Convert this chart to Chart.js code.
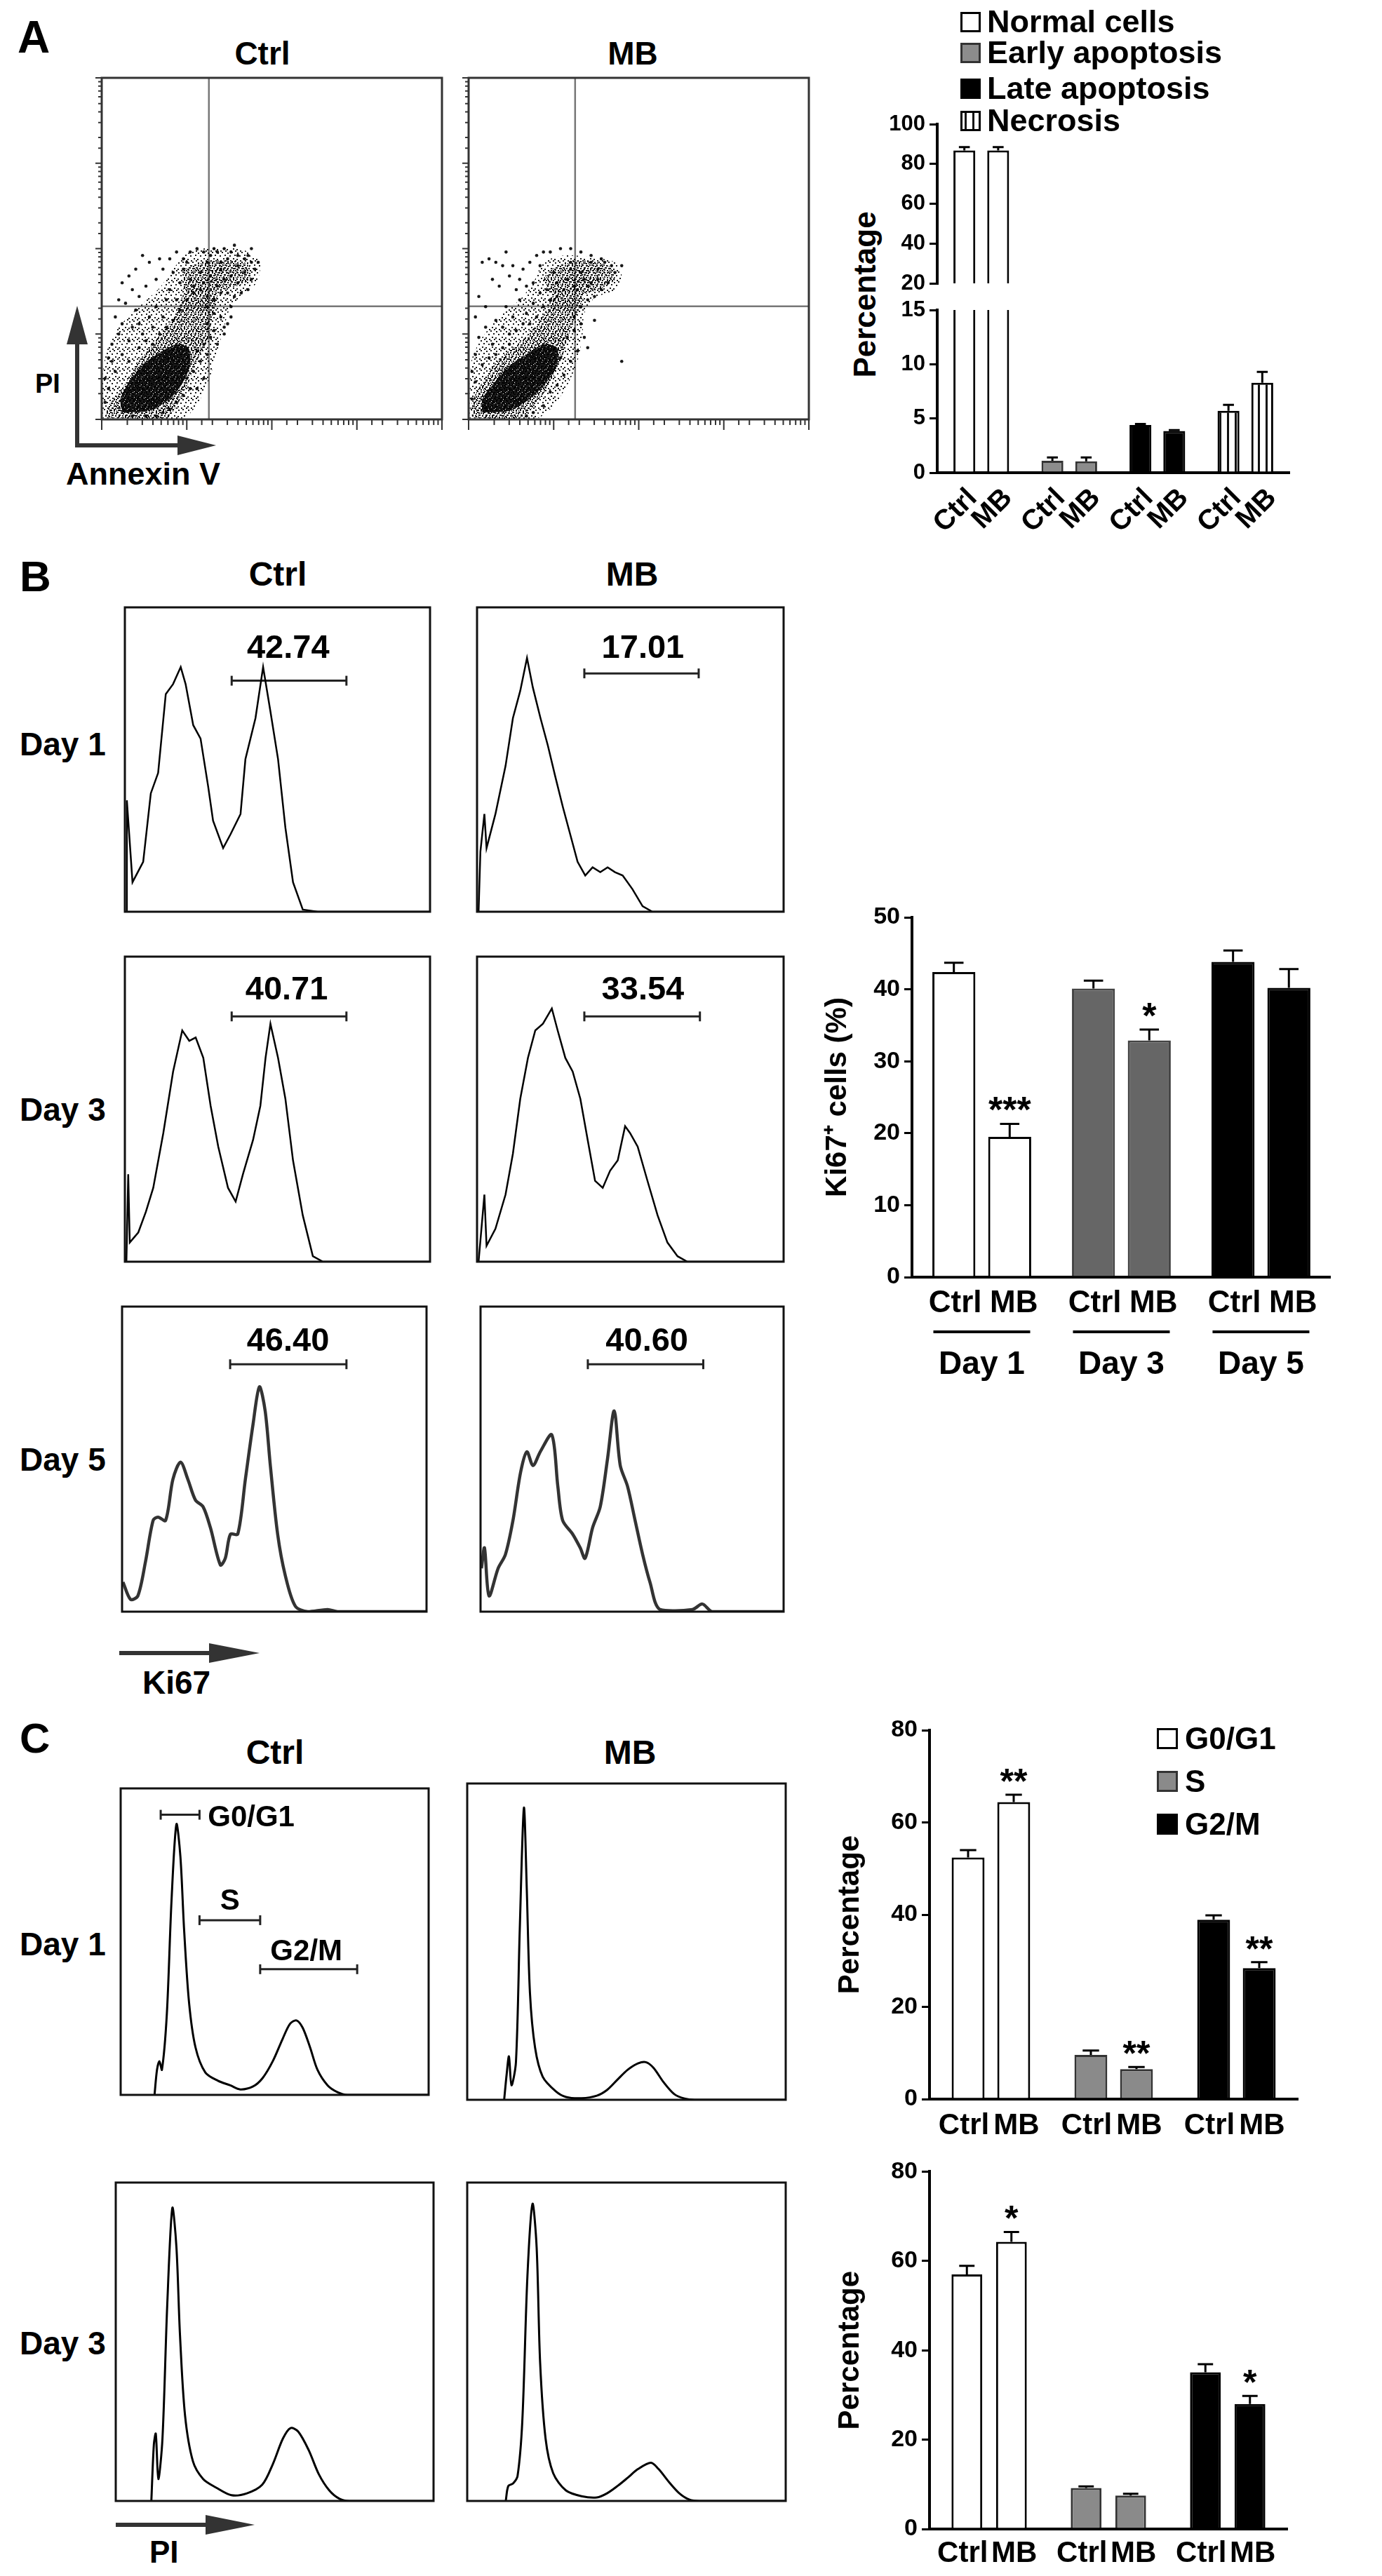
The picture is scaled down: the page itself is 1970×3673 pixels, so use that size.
<!DOCTYPE html>
<html><head><meta charset="utf-8"><title>Figure</title>
<script src="https://cdn.jsdelivr.net/npm/chart.js@4.4.1/dist/chart.umd.min.js"></script>
<style>
html,body{margin:0;padding:0;background:#fff;}
#page{position:relative;width:1970px;height:3673px;overflow:hidden;background:#fff;font-family:"Liberation Sans",Arial,Helvetica,sans-serif;font-weight:bold;color:#000;}
.t{position:absolute;white-space:nowrap;line-height:1;}
canvas{position:absolute;}
.shape{position:absolute;}
</style></head>
<body><div id="page"></div>
<script>
// ================= DATA =================
// Panel A – bar chart (percentage of cells)
const aCategories = ['Normal cells','Early apoptosis','Late apoptosis','Necrosis'];
const aCtrl    = [86.8, 1.1, 4.4, 5.7];
const aMB      = [86.8, 1.05, 3.85, 8.3];
const aCtrlErr = [1.7, 0.3, 0.1, 0.55];
const aMBErr   = [1.7, 0.35, 0.08, 1.0];
const aTopTicks    = [20, 40, 60, 80, 100];
const aBottomTicks = [0, 5, 10, 15];

// Panel A – Annexin V / PI dot plots (percent of plot width / height)
const aGateX = [31.5, 31.3];
const aGateY = [33.1, 33.1];
// density contours: densest spot, dense core, medium halo, upper (PI+) cluster
const aCtrlPeak  = [[6,2],[14,2.5],[20,6],[24,11],[26,16],[25.5,21],[22,22],[17,19.5],[12,16],[8,11],[5.5,6],[6,2]];
const aCtrlCore  = [[1,0.5],[19,0.5],[25,9.8],[27.8,16.7],[31.3,23.5],[32.6,30.4],[34,37.2],[30,38.5],[24.4,37.2],[21.6,30.4],[16.1,23.5],[10.6,16.7],[6.5,9.8],[2,4],[1,0.5]];
const aCtrlHalo  = [[0.3,0.3],[24,0.3],[29,6],[32,13],[34,20],[36,27],[37.5,32],[41,36],[45.5,40],[46.5,46],[42,49.5],[33,50.5],[25,48.5],[21,44],[17,38.5],[11,33],[5,27],[1.5,20],[0.3,13],[0.3,0.3]];
const aCtrlUpper = [[24,38],[31,37.5],[38,38.5],[43.5,41],[43,45.5],[36,46.5],[29,46],[24,43.5],[24,38]];
const aCtrlUpperDark = [[31,40.5],[36,40],[39,42.5],[36,45],[32,44],[31,40.5]];
const aMbPeak    = [[4,2],[12,2.5],[18,6],[23,11],[26,16],[26,21],[22,22],[17,19],[11,15],[7,10],[4,6],[4,2]];
const aMbCore    = [[1,0.5],[15,0.5],[19,3.7],[24,10.5],[27.2,17.4],[29.3,24.3],[32,31.1],[34,37.9],[30,39.5],[25.8,37.9],[22.4,31.1],[17,24.3],[8.7,17.4],[3.8,10.5],[1,5],[1,0.5]];
const aMbHalo    = [[0.3,0.3],[20,0.3],[25,4],[29,10],[32,17],[33.5,25],[34,31],[37,35.5],[43,38],[45,42],[43,46],[36,47.5],[28,48],[22,46],[19,40],[15,35],[9,30],[4,24],[0.8,17],[0.3,0.3]];
const aMbUpper   = [[24,37],[31,36],[38,38],[43,41],[41,45],[33,46.5],[26,45],[22,41],[24,37]];
const aMbUpperDark = [[28,39],[34,38.5],[37,41],[34,43.5],[29,42.5],[28,39]];
const aCtrlDots = [[1,12],[2,18],[3,22],[5,25],[8,23],[6,28],[9,27],[11,28],[12,25],[14,30],[10,32],[16,33],[18,30],[19,35],
 [20,38],[22,35],[23,40],[21,43],[18,44],[16,41],[14,46],[12,48],[10,44],[8,42],[6,40],[13,39],[24,47],[26,49],[28,50],
 [30,49],[32,48],[34,49],[36,50],[38,49],[40,48],[42,47],[44,46],[45,44],[44,41],[43,38],[41,37],[39,36],[37,37],[35,37],
 [33,35],[31,33],[33,31],[35,30],[37,28],[36,25],[34,22],[33,26],[31,28],[30,22],[31,19],[29,17],[27,14],[25,12],[26,9],
 [24,7],[22,5],[20,3],[18,2],[16,1],[13,1],[9,1],[1,5],[2,9],[4,14],[3,17],[6,19],[8,17],[11,21],[13,23],[15,22],[17,25],
 [19,27],[21,29],[23,32],[25,35],[27,37],[29,38],[31,36],[15,27],[4,30],[7,34],[28,20],[32,24],[38,33],[40,40],[42,43],
 [43,48],[20,47],[22,49],[25,46],[35,46],[37,47],[33,50],[17,47],[11,36],[9,38],[5,35],[46,46],[44,50],[39,51],[36,27],
 [38,30],[30,12],[28,9],[26,41],[29,43],[32,42],[35,44],[38,42],[30,40],[34,39],[36,41],[27,39],[24,44],[31,46],[40,45]];
const aMbDots = [[1,14],[2,19],[3,24],[5,27],[7,22],[8,29],[10,27],[12,25],[13,30],[11,33],[15,35],[17,31],[19,34],[14,38],
 [12,42],[10,45],[8,46],[6,47],[4,46],[16,44],[18,46],[20,48],[22,49],[24,49],[27,50],[30,50],[33,49],[36,48],[39,47],
 [42,45],[43,43],[41,40],[39,38],[37,36],[35,35],[33,33],[31,30],[33,28],[34,24],[32,20],[31,26],[30,17],[28,13],[26,10],
 [24,8],[22,4],[25,15],[27,18],[29,24],[1,6],[2,11],[4,16],[6,18],[8,19],[10,21],[12,22],[14,26],[16,28],[18,28],[20,30],
 [22,33],[24,35],[26,36],[21,37],[19,40],[17,39],[15,41],[13,45],[21,45],[23,38],[45,17],[35,39],[38,44],[40,46],[36,46],
 [5,33],[3,36],[9,39],[7,41],[11,49],[30,46],[32,38],[35,21],[37,29],[19,2],[17,1],[2,30],[45,45],[26,40],[29,41],[33,43],
 [36,40],[28,38],[31,39],[34,41],[25,43],[30,44],[38,41]];

// Panel B – Ki67 histograms [channel %, count %]
const bHistD1Ctrl = [[0.5,0],[0.65,36.6],[2.5,9.7],[6.0,16.4],[8.5,38.9],[10.9,45.6],[13.4,71.5],[15.8,74.8],[18.3,80.4],[19.9,74.8],
 [22.4,61.3],[24.8,56.9],[27.3,41.1],[28.9,29.9],[32.2,20.9],[34.6,25.4],[37.9,32.1],[39.5,50.1],[42.8,63.6],[45.3,80.4],
 [47.7,65.8],[50.2,50.1],[52.6,27.6],[55.1,9.7],[58.3,0.7],[63.2,0],[100,0]];
const bHistD1MB = [[0.5,0],[1.1,19.8],[2.4,32.1],[3.1,20.9],[6.0,32.1],[9.3,47.9],[11.7,63.6],[14.1,72.6],[16.3,83.4],[18.2,73.7],
 [20.7,63.6],[23.1,54.6],[25.5,44.5],[28.0,34.4],[30.4,25.4],[32.8,16.4],[35.3,11.9],[37.7,14.6],[40.2,13.0],[42.6,14.6],
 [45.0,13.0],[47.5,11.9],[50.7,7.4],[54.0,1.8],[57.2,0],[100,0]];
const bHistD3Ctrl = [[0.5,0],[1.1,28.7],[1.6,6.3],[4.4,9.6],[6.9,16.4],[9.3,24.2],[12.6,42.2],[15.8,62.3],[18.8,75.8],[21.1,72.4],
 [23.2,73.5],[25.7,66.8],[28.1,51.1],[30.6,37.7],[33.8,24.2],[36.3,19.7],[38.7,28.7],[42.0,39.9],[44.4,51.1],[46.1,66.8],
 [47.7,78.0],[50.2,66.8],[52.6,53.4],[55.1,33.2],[58.3,15.2],[61.6,1.8],[64.9,0],[100,0]];
const bHistD3MB = [[0.5,0],[2.4,22.0],[3.1,5.2],[6.0,10.8],[9.3,22.0],[11.7,35.4],[14.1,53.4],[16.6,66.8],[19.0,75.8],[21.5,78.0],
 [24.4,83.0],[26.3,75.8],[28.8,66.8],[31.2,62.3],[33.7,53.4],[36.1,39.9],[38.5,26.5],[41.0,24.2],[43.4,29.8],[45.9,33.2],
 [48.3,44.4],[49.9,42.2],[52.4,37.7],[55.6,26.5],[58.9,15.2],[62.1,6.3],[65.4,1.8],[68.6,0],[100,0]];
const bHistD5Ctrl = [[0.3,9.7],[2.8,4.0],[5.2,5.2],[7.7,16.4],[10.2,29.9],[11.8,31.0],[14.3,29.9],[16.7,43.4],[19.2,49.0],[21.6,43.4],
 [24.1,36.6],[26.6,34.4],[29.0,27.6],[32.3,15.3],[33.9,17.5],[35.6,25.4],[38.0,25.4],[40.5,43.4],[43.0,61.3],[45.1,73.7],
 [47.0,65.8],[48.7,47.9],[51.1,25.4],[53.6,11.9],[56.9,1.8],[61.0,0],[67.5,0.7],[70.8,0],[100,0]];
const bHistD5MB = [[0.3,14.2],[1.3,20.9],[2.8,5.2],[5.8,14.2],[8.2,18.7],[10.7,29.9],[13.2,45.6],[15.3,52.4],[17.3,47.9],[19.7,52.4],
 [23.5,58.0],[25.5,41.1],[27.1,29.9],[30.4,25.4],[32.9,20.9],[34.5,17.5],[37.0,27.6],[39.5,34.4],[41.9,50.1],[44.1,65.8],
 [46.1,47.9],[48.5,41.1],[51.0,29.9],[53.5,18.7],[55.9,9.7],[59.2,0.7],[69.9,0.7],[73.2,2.5],[76.5,0],[100,0]];
const bGateValues = ['42.74','17.01','40.71','33.54','46.40','40.60'];
const bGateRanges = [[35.0,72.6,75.9],[35.0,72.3,78.3],[35.0,72.6,80.4],[35.0,72.7,80.4],[35.5,73.7,81.1],[35.4,73.5,81.1]];

// Panel B – Ki67+ bar chart
const bCategories = ['Day 1','Day 3','Day 5'];
const bCtrl    = [42.4, 40.1, 43.8];
const bMB      = [19.5, 32.9, 40.2];
const bCtrlErr = [1.3, 1.1, 1.6];
const bMBErr   = [1.8, 1.5, 2.6];
const bMBStars = ['***','*',''];
const bTicks   = [0, 10, 20, 30, 40, 50];

// Panel C – PI cell-cycle histograms
const cHistD1Ctrl = [[11.0,0],[11.8,8.2],[12.6,11.0],[13.4,8.2],[15.0,26.5],[16.5,63.1],[18.1,88.3],[19.4,77.7],[20.6,53.9],
 [22.2,30.2],[24.3,15.5],[27.5,7.3],[31.6,4.6],[35.6,3.1],[38.8,1.8],[42.9,2.7],[46.1,5.5],[49.4,11.0],[52.6,18.3],[55.0,23.2],
 [57.1,24.3],[59.1,21.9],[61.5,15.5],[63.9,8.2],[67.2,3.1],[70.4,0.9],[73.6,0],[100,0]];
const cHistD1MB = [[11.6,0],[12.4,8.2],[13.1,13.7],[13.9,4.6],[15.3,11.9],[16.5,53.9],[17.8,92.3],[18.7,66.7],[19.7,33.8],
 [21.3,16.5],[23.7,7.3],[27.8,2.7],[31.0,0.9],[35.9,0.5],[40.7,1.3],[43.9,3.1],[47.2,6.4],[50.4,9.5],[53.6,11.5],[56.1,11.9],
 [58.5,10.1],[61.7,5.5],[65.0,1.8],[68.2,0.4],[71.4,0],[100,0]];
const cHistD3Ctrl = [[11.2,0],[12.0,17.8],[12.6,21.1],[13.4,6.9],[14.7,19.6],[16.2,61.5],[17.8,92.0],[19.1,79.6],[20.2,52.4],
 [21.8,26.9],[24.3,12.4],[27.5,6.9],[31.6,4.2],[36.4,1.8],[41.3,2.4],[46.1,5.1],[49.4,11.5],[52.6,19.6],[55.0,22.9],[57.4,21.8],
 [60.7,16.0],[63.9,8.4],[67.2,3.3],[70.4,0.7],[73.6,0],[100,0]];
const cHistD3MB = [[12.1,0],[12.9,4.7],[14.4,5.5],[15.8,7.8],[17.3,25.1],[18.9,70.5],[20.5,93.3],[21.8,79.6],[22.9,43.3],
 [24.6,19.6],[27.0,8.7],[31.0,3.3],[35.9,1.5],[40.7,1.1],[43.9,2.4],[47.2,4.7],[50.4,7.3],[53.6,10.0],[57.7,12.0],[60.1,10.0],
 [63.3,6.0],[66.6,2.4],[69.8,0.4],[73.0,0],[100,0]];
const cGateRanges = [[13.0,25.6,91.4],[25.6,45.3,57.0],[45.3,76.8,41.0]];

// Panel C – cell-cycle bar charts
const cCategories = ['G0/G1','S','G2/M'];
const cDay1Ctrl    = [52.4, 9.6, 38.9];
const cDay1MB      = [64.4, 6.5, 28.4];
const cDay1CtrlErr = [1.6, 0.95, 0.95];
const cDay1MBErr   = [1.6, 0.45, 1.3];
const cDay1MBStars = ['**','**','**'];
const cDay3Ctrl    = [57.0, 9.2, 35.1];
const cDay3MB      = [64.3, 7.5, 28.0];
const cDay3CtrlErr = [1.9, 0.35, 1.8];
const cDay3MBErr   = [2.2, 0.4, 1.8];
const cDay3MBStars = ['*','','*'];
const cTicks = [0, 20, 40, 60, 80];

// ================= HELPERS =================
const FONT = "'Liberation Sans', Arial, Helvetica, sans-serif";
Chart.defaults.font.family = FONT;
Chart.defaults.font.weight = 'bold';
Chart.defaults.color = '#000';
Chart.defaults.animation = false;
Chart.defaults.responsive = false;

const page = document.getElementById('page');
function addCanvas(l,t,w,h){const c=document.createElement('canvas');c.width=w;c.height=h;c.style.left=l+'px';c.style.top=t+'px';c.style.width=w+'px';c.style.height=h+'px';page.appendChild(c);return c;}
function addText(txt,x,base,size,align){const d=document.createElement('div');d.className='t';d.textContent=txt;d.style.fontSize=size+'px';d.style.top=(base-0.8465*size)+'px';d.style.left=x+'px';if(align==='center')d.style.transform='translateX(-50%)';page.appendChild(d);return d;}
function addRotText(txt,cx,cy,size){const d=document.createElement('div');d.className='t';d.textContent=txt;d.style.fontSize=size+'px';d.style.left=cx+'px';d.style.top=cy+'px';d.style.transform='translate(-50%,-50%) rotate(-90deg)';page.appendChild(d);return d;}
function addRect(x,y,w,h,color){const d=document.createElement('div');d.className='shape';Object.assign(d.style,{left:x+'px',top:y+'px',width:w+'px',height:h+'px',background:color});page.appendChild(d);}
function arrowRight(x0,cy,tip,len,half,shaft,color){addRect(x0,cy-shaft/2,tip-len-x0+2,shaft,color);const d=document.createElement('div');d.className='shape';Object.assign(d.style,{left:(tip-len)+'px',top:(cy-half)+'px',width:0,height:0,borderTop:half+'px solid transparent',borderBottom:half+'px solid transparent',borderLeft:len+'px solid '+color});page.appendChild(d);}
function arrowUp(cx,y0,tip,len,half,shaft,color){addRect(cx-shaft/2,tip+len-2,shaft,y0-(tip+len)+2,color);const d=document.createElement('div');d.className='shape';Object.assign(d.style,{left:(cx-half)+'px',top:tip+'px',width:0,height:0,borderLeft:half+'px solid transparent',borderRight:half+'px solid transparent',borderBottom:len+'px solid '+color});page.appendChild(d);}

// fill textures (style only)
function tile(w,h,bg,fg,spots){const c=document.createElement('canvas');c.width=w;c.height=h;const x=c.getContext('2d');if(bg){x.fillStyle=bg;x.fillRect(0,0,w,h);}x.fillStyle=fg;spots.forEach(s=>x.fillRect(s[0],s[1],s[2],s[3]));return x.createPattern(c,'repeat');}
const stripes   = tile(11,4,'#fff','#111',[[5,0,3,4]]);
const speckLow  = tile(14,14,null,'rgba(0,0,0,0.9)',[[1,1,2,2],[7,0,2,2],[11,4,2,2],[4,5,2,2],[9,9,2,2],[0,10,2,2],[5,12,2,2],[12,12,2,2]]);
const speckMid  = tile(10,10,null,'rgba(0,0,0,0.92)',[[0,0,2,2],[5,1,2,2],[2,4,3,2],[7,5,2,2],[1,7,2,2],[5,8,2,2],[8,2,2,2],[9,8,1,2]]);
const speckHigh = tile(8,8,'rgba(0,0,0,0.9)','#fff',[[2,1,1,1],[6,4,1,1],[3,6,1,1],[0,3,1,1]]);

// ---- plugins ----
const borderPlugin=(color,width)=>({id:'boxBorder',afterDatasetsDraw(chart){const {ctx,chartArea:a}=chart;ctx.save();ctx.strokeStyle=color;ctx.lineWidth=width;ctx.strokeRect(a.left,a.top,a.right-a.left,a.bottom-a.top);ctx.restore();}});
const textPlugin=(items)=>({id:'dataText',afterDatasetsDraw(chart){const {ctx,scales:{x,y}}=chart;ctx.save();ctx.fillStyle='#000';items.forEach(it=>{ctx.font='bold '+it.size+'px '+FONT;ctx.textAlign=it.align||'center';ctx.textBaseline='alphabetic';ctx.fillText(it.t,x.getPixelForValue(it.x),y.getPixelForValue(it.y));});ctx.restore();}});
const logTickPlugin={id:'logTicks',afterDraw(chart){const {ctx,chartArea:a}=chart;const xs=chart.scales.xlog,ys=chart.scales.ylog;const maj=v=>Math.abs(Math.log10(v)-Math.round(Math.log10(v)))<1e-6;ctx.save();ctx.strokeStyle='#333';ctx.lineWidth=2;ctx.beginPath();xs.ticks.forEach(t=>{const p=xs.getPixelForValue(t.value);ctx.moveTo(p,a.bottom);ctx.lineTo(p,a.bottom+(maj(t.value)?15:8));});ys.ticks.forEach(t=>{const p=ys.getPixelForValue(t.value);ctx.moveTo(a.left,p);ctx.lineTo(a.left-(maj(t.value)?9:5),p);});ctx.stroke();ctx.restore();}};
const errPlugin=(o)=>({id:'errBars',afterDatasetsDraw(chart){const {ctx,chartArea:a,scales:{y}}=chart;ctx.save();ctx.beginPath();ctx.rect(a.left,a.top,a.right-a.left,a.bottom-a.top);ctx.clip();ctx.strokeStyle='#000';ctx.lineWidth=o.lw;chart.data.datasets.forEach((ds,di)=>{if(!ds.err)return;const meta=chart.getDatasetMeta(di);meta.data.forEach((el,i)=>{const top=y.getPixelForValue(ds.data[i]+ds.err[i]);const hw=el.width*o.cap/2;ctx.beginPath();ctx.moveTo(el.x,el.y);ctx.lineTo(el.x,top);ctx.moveTo(el.x-hw,top);ctx.lineTo(el.x+hw,top);ctx.stroke();});});ctx.restore();}});
const starPlugin=(o)=>({id:'stars',afterDatasetsDraw(chart){const {ctx,scales:{y}}=chart;ctx.save();ctx.fillStyle='#000';ctx.font='bold '+o.size+'px '+FONT;ctx.textAlign='center';ctx.textBaseline='alphabetic';chart.data.datasets.forEach((ds,di)=>{if(!ds.stars)return;const meta=chart.getDatasetMeta(di);meta.data.forEach((el,i)=>{const s=ds.stars[i];if(!s)return;const top=y.getPixelForValue(ds.data[i]+(ds.err?ds.err[i]:0));ctx.fillText(s,el.x,top+o.gap);});});ctx.restore();}});
const barLabelPlugin=(o)=>({id:'barLabels',afterDraw(chart){const {ctx,chartArea:a}=chart;ctx.save();ctx.fillStyle='#000';ctx.font='bold '+o.size+'px '+FONT;chart.data.datasets.forEach((ds,di)=>{const meta=chart.getDatasetMeta(di);const dx=o.dx?o.dx[di]:0;meta.data.forEach(el=>{if(o.rotate){ctx.save();ctx.translate(el.x+dx,a.bottom+o.dy);ctx.rotate(-Math.PI/4);ctx.textAlign='right';ctx.textBaseline='middle';ctx.fillText(ds.label,0,0);ctx.restore();}else{ctx.textAlign='center';ctx.textBaseline='alphabetic';ctx.fillText(ds.label,el.x+dx,a.bottom+o.dy);}});});ctx.restore();}});
const groupLinePlugin=(o)=>({id:'groupLines',afterDraw(chart){const {ctx,chartArea:a,scales:{x}}=chart;ctx.save();ctx.strokeStyle='#000';ctx.lineWidth=o.width;ctx.beginPath();x.ticks.forEach((t,i)=>{const cx=x.getPixelForTick(i);ctx.moveTo(cx-o.half,a.bottom+o.dy);ctx.lineTo(cx+o.half,a.bottom+o.dy);});ctx.stroke();ctx.restore();}});
const legendPlugin=(labels,fills,borders,o)=>({id:'boxLegend',afterDraw(chart){const ctx=chart.ctx;ctx.save();labels.forEach((lab,i)=>{const yb=o.ys[i];ctx.fillStyle=fills[i];ctx.fillRect(o.x,yb-o.box,o.box,o.box);ctx.lineWidth=3;ctx.strokeStyle=borders[i];ctx.strokeRect(o.x+1.5,yb-o.box+1.5,o.box-3,o.box-3);ctx.fillStyle='#000';ctx.font='bold '+o.size+'px '+FONT;ctx.textAlign='left';ctx.textBaseline='alphabetic';ctx.fillText(lab,o.x+o.box+o.dx,yb);});ctx.restore();}});

function yAxis(min,max,ticksArr,size,width,title){
  const ax={type:'linear',min,max,
    afterBuildTicks(s){s.ticks=ticksArr.map(v=>({value:v}));},
    afterFit(s){s.width=width;},
    ticks:{font:{size:size,weight:'bold'},color:'#000',padding:6},
    grid:{drawOnChartArea:false,drawTicks:true,tickLength:11,color:'#000',lineWidth:3},
    border:{display:true,color:'#000',width:4}};
  ax.title=title?{display:true,text:title.text,font:{size:title.size,weight:'bold'},color:'#000',padding:{top:title.pad,bottom:0}}:{display:false};
  return ax;
}
const noPlug={legend:{display:false},tooltip:{enabled:false}};

// ---- dot plot ----
function dotChart(box,shapes,dots,gx,gy){
  const pl=18,pt=4,pr=4,pb=20;
  const c=addCanvas(box[0]-pl,box[1]-pt,box[2]-box[0]+pl+pr,box[3]-box[1]+pt+pb);
  const poly=(pts,fill)=>({type:'line',data:pts.map(p=>({x:p[0],y:p[1]})),fill:'shape',backgroundColor:fill,borderWidth:0,borderColor:'rgba(0,0,0,0)',pointRadius:0,tension:0.25});
  const ds=[
    poly(shapes.halo,speckLow),
    poly(shapes.upper,speckMid),
    poly(shapes.upperDark,speckMid),
    poly(shapes.core,speckMid),
    poly(shapes.core,speckLow),
    poly(shapes.peak,speckHigh),
    {data:dots.map(p=>({x:p[0],y:p[1]})),pointRadius:2.3,pointBackgroundColor:'rgba(0,0,0,0.9)',pointBorderWidth:0},
    {type:'line',data:[{x:gx,y:0},{x:gx,y:100}],borderColor:'#777',borderWidth:2.5,pointRadius:0},
    {type:'line',data:[{x:0,y:gy},{x:100,y:gy}],borderColor:'#777',borderWidth:2.5,pointRadius:0}];
  new Chart(c,{type:'scatter',data:{datasets:ds},
   options:{devicePixelRatio:1,layout:{padding:{left:pl,top:pt,right:pr,bottom:pb}},plugins:noPlug,
    scales:{x:{type:'linear',min:0,max:100,display:false},y:{type:'linear',min:0,max:100,display:false},
     xlog:{type:'logarithmic',position:'bottom',min:1,max:10000,display:true,ticks:{display:false,autoSkip:false},grid:{display:false},border:{display:false},afterFit(s){s.height=0;}},
     ylog:{type:'logarithmic',position:'left',min:1,max:10000,display:true,ticks:{display:false,autoSkip:false},grid:{display:false},border:{display:false},afterFit(s){s.width=0;}}}},
   plugins:[borderPlugin('#333',3),logTickPlugin]});
}

// ---- histogram ----
function histChart(box,curve,gates,texts,lw,tension,color){
  const pad=3;
  const c=addCanvas(box[0]-pad,box[1]-pad,box[2]-box[0]+2*pad,box[3]-box[1]+2*pad);
  const ds=[{type:'line',data:curve.map(p=>({x:p[0],y:p[1]})),borderColor:color,borderWidth:lw,pointRadius:0,tension:tension,fill:false}];
  gates.forEach(g=>ds.push({type:'line',data:[{x:g[0],y:g[2]},{x:g[1],y:g[2]}],borderColor:'#222',borderWidth:3,pointStyle:'line',pointRotation:90,pointRadius:7,pointBorderWidth:3,pointBorderColor:'#222'}));
  new Chart(c,{type:'line',data:{datasets:ds},options:{devicePixelRatio:1,layout:{padding:pad},plugins:noPlug,
    scales:{x:{type:'linear',min:0,max:100,display:false},y:{type:'linear',min:0,max:100,display:false}}},
    plugins:[borderPlugin('#111',3),textPlugin(texts)]});
}

// ================= PANEL A =================
addText('A',25,75,64);
addText('Ctrl',374,92,46,'center');
addText('MB',902,92,46,'center');
dotChart([145,111,630,598],{halo:aCtrlHalo,upper:aCtrlUpper,upperDark:aCtrlUpperDark,core:aCtrlCore,peak:aCtrlPeak},aCtrlDots,aGateX[0],aGateY[0]);
dotChart([668,111,1153,598],{halo:aMbHalo,upper:aMbUpper,upperDark:aMbUpperDark,core:aMbCore,peak:aMbPeak},aMbDots,aGateX[1],aGateY[1]);
arrowUp(110,638,436,55,15,6,'#333');
arrowRight(107,635,308,55,14,6,'#333');
addText('PI',50,560,38);
addText('Annexin V',94,691,45);
addRotText('Percentage',1233,420,44);

const aFills=['#ffffff','#8c8c8c','#000000',stripes];
const aBorders=['#000','#333','#000','#000'];
function aDatasets(){return [
  {label:'Ctrl',data:aCtrl,err:aCtrlErr,backgroundColor:aFills,borderColor:aBorders,borderWidth:3,categoryPercentage:0.768,barPercentage:0.646},
  {label:'MB',data:aMB,err:aMBErr,backgroundColor:aFills,borderColor:aBorders,borderWidth:3,categoryPercentage:0.768,barPercentage:0.646}];}
new Chart(addCanvas(1150,0,698,434),{type:'bar',data:{labels:aCategories,datasets:aDatasets()},
  options:{devicePixelRatio:1,layout:{padding:{top:177,bottom:30,right:10,left:0}},plugins:noPlug,
   scales:{x:{display:false,offset:true},y:yAxis(20,100,aTopTicks,31,186)}},
  plugins:[errPlugin({lw:3,cap:0.5}),legendPlugin(aCategories,aFills,aBorders,{x:219,ys:[46,90,141,187],box:29,dx:9,size:45})]});
new Chart(addCanvas(1150,410,698,350),{type:'bar',data:{labels:aCategories,datasets:aDatasets()},
  options:{devicePixelRatio:1,layout:{padding:{top:32,bottom:86,right:10,left:0}},plugins:noPlug,
   scales:{x:{offset:true,grid:{display:false},border:{display:true,color:'#000',width:4},ticks:{display:false},afterFit(s){s.height=0;}},
    y:yAxis(0,15,aBottomTicks,31,186)}},
  plugins:[errPlugin({lw:3,cap:0.5}),barLabelPlugin({rotate:true,size:40,dy:30,dx:[12,14]})]});

// ================= PANEL B =================
addText('B',28,843,62);
addText('Ctrl',396,836,48,'center');
addText('MB',901,836,48,'center');
addText('Day 1',28,1077,46);
addText('Day 3',28,1598,46);
addText('Day 5',28,2097,46);
const bBoxes=[[171,859,620,1307],[673,859,1124,1307],[171,1357,620,1806],[673,1357,1124,1806],[167,1856,615,2305],[678,1856,1124,2305]];
const bHists=[bHistD1Ctrl,bHistD1MB,bHistD3Ctrl,bHistD3MB,bHistD5Ctrl,bHistD5MB];
const bTextPos=[[53.5,83.5],[54.1,83.5],[53.0,86.0],[54.1,86.0],[54.5,85.5],[54.9,85.5]];
bHists.forEach((h,i)=>{
  const day5=i>=4;
  histChart(bBoxes[i],h,[bGateRanges[i]],[{t:bGateValues[i],x:bTextPos[i][0],y:bTextPos[i][1],size:47}],day5?4.5:2.5,day5?0.3:0,day5?'#333':'#000');
});
arrowRight(170,2357,370,72,14,6,'#333');
addText('Ki67',203,2415,46);

const bFills=['#ffffff','#666666','#000000'];
const bBorders=['#000','#444','#000'];
new Chart(addCanvas(1160,1280,790,691),{type:'bar',data:{labels:bCategories,datasets:[
   {label:'Ctrl',data:bCtrl,err:bCtrlErr,backgroundColor:bFills,borderColor:bBorders,borderWidth:3,categoryPercentage:0.80,barPercentage:0.77},
   {label:'MB',data:bMB,err:bMBErr,stars:bMBStars,backgroundColor:bFills,borderColor:bBorders,borderWidth:3,categoryPercentage:0.80,barPercentage:0.77}]},
  options:{devicePixelRatio:1,layout:{padding:{top:28,right:7,bottom:0,left:0}},plugins:noPlug,
   scales:{x:{type:'category',offset:true,grid:{display:false},border:{display:true,color:'#000',width:4},
      ticks:{font:{size:46,weight:'bold'},color:'#000',padding:90,maxRotation:0,autoSkip:false},afterFit(s){s.height=150;}},
    y:yAxis(0,50,bTicks,34,140,{text:'Ki67\u207A cells (%)',size:42,pad:9})}},
  plugins:[errPlugin({lw:3,cap:0.45}),starPlugin({size:52,gap:-2}),barLabelPlugin({size:44,dy:50,dx:[2,6]}),groupLinePlugin({width:4,half:69,dy:78})]});

// ================= PANEL C =================
addText('C',28,2500,60);
addText('Ctrl',392,2516,48,'center');
addText('MB',898,2516,48,'center');
addText('Day 1',28,2788,46);
addText('Day 3',28,3357,46);
const cBoxes=[[165,2543,618,2994],[666,2543,1120,2994],[165,3112,618,3566],[666,3112,1120,3566]];
const cHists=[cHistD1Ctrl,cHistD1MB,cHistD3Ctrl,cHistD3MB];
cHists.forEach((h,i)=>{
  const gates=i===0?cGateRanges:[];
  const texts=i===0?[{t:cCategories[0],x:28.3,y:87.6,size:42,align:'left'},{t:cCategories[1],x:35.5,y:60.3,size:42},{t:cCategories[2],x:48.6,y:43.9,size:42,align:'left'}]:[];
  histChart(cBoxes[i],h,gates,texts,3,0.3,'#000');
});
arrowRight(165,3600,363,70,14,6,'#333');
addText('PI',213,3654,44);

const cFills=['#ffffff','#8a8a8a','#000000'];
const cBorders=['#000','#333','#000'];
function cChart(l,t,w,h,padT,padB,ctrl,mb,ctrlErr,mbErr,stars,legend,labDy,catPct,barPct){
  const plugins=[errPlugin({lw:3,cap:0.5}),starPlugin({size:50,gap:-2}),barLabelPlugin({size:42,dy:labDy,dx:[-6,4]})];
  if(legend) plugins.push(legendPlugin(cCategories,cFills,cBorders,{x:489,ys:[54,115,176],box:30,dx:10,size:44}));
  new Chart(addCanvas(l,t,w,h),{type:'bar',data:{labels:cCategories,datasets:[
     {label:'Ctrl',data:ctrl,err:ctrlErr,backgroundColor:cFills,borderColor:cBorders,borderWidth:3,categoryPercentage:catPct,barPercentage:barPct},
     {label:'MB',data:mb,err:mbErr,stars:stars,backgroundColor:cFills,borderColor:cBorders,borderWidth:3,categoryPercentage:catPct,barPercentage:barPct}]},
    options:{devicePixelRatio:1,layout:{padding:{top:padT,right:10,bottom:padB,left:0}},plugins:noPlug,
     scales:{x:{type:'category',offset:true,grid:{display:false},border:{display:true,color:'#000',width:4},ticks:{display:false},afterFit(s){s.height=0;}},
      y:yAxis(0,80,cTicks,34,165,{text:'Percentage',size:42,pad:27})}},
    plugins});
}
cChart(1160,2440,700,613,27,60,cDay1Ctrl,cDay1MB,cDay1CtrlErr,cDay1MBErr,cDay1MBStars,true,50,0.743,0.72);
cChart(1160,3070,685,603,24,67,cDay3Ctrl,cDay3MB,cDay3CtrlErr,cDay3MBErr,cDay3MBStars,false,47,0.747,0.69);
</script></body></html>
